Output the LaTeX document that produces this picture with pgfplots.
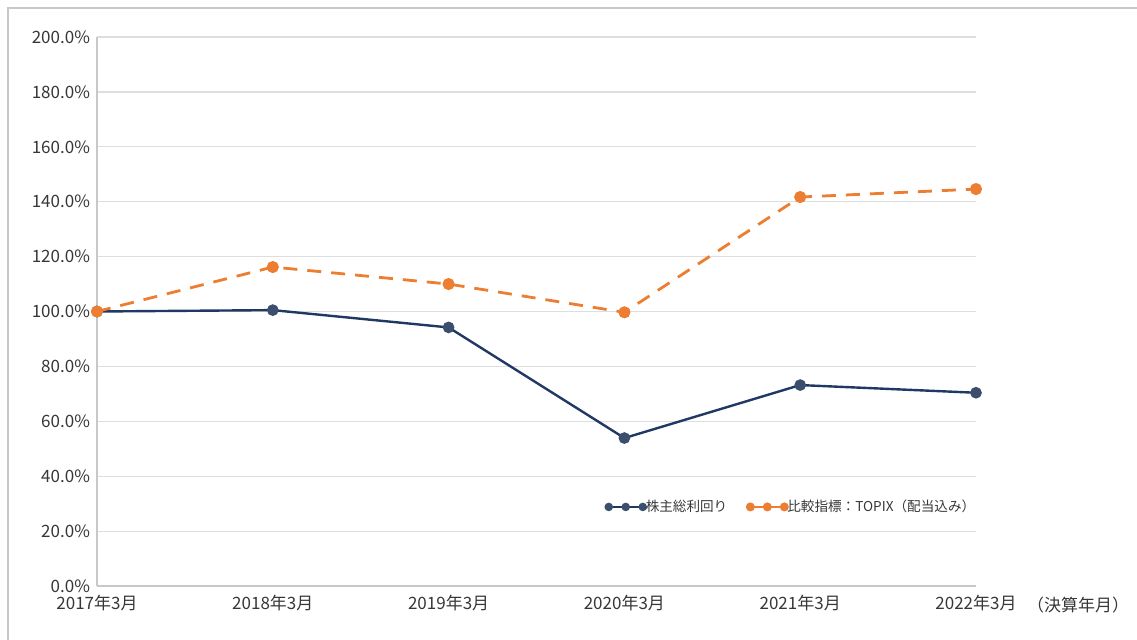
\documentclass[border=0pt]{standalone}
\usepackage{fontspec}
\setmainfont{Noto Sans CJK JP}
\usepackage{pgfplots}
\pgfplotsset{compat=1.18}
\definecolor{navy}{RGB}{31,56,100}
\definecolor{navymark}{RGB}{60,78,110}
\definecolor{orng}{RGB}{237,125,49}
\definecolor{gridc}{RGB}{222,222,222}
\definecolor{axc}{RGB}{200,200,200}
\definecolor{txt}{RGB}{55,55,55}
\begin{document}
\begin{tikzpicture}[x=0.5pt,y=0.5pt]
\path[use as bounding box] (-97,-53) rectangle (1040,586);
\draw[axc, line width=1.2pt] (-89,-60) -- (-89,578) -- (1050,578);
\begin{axis}[
  at={(0,0)}, anchor=origin,
  scale only axis, width=439.5pt, height=274.5pt,
  xmin=0, xmax=5, ymin=0, ymax=200,
  xtick={0,...,5},
  xticklabels={2017年3月,2018年3月,2019年3月,2020年3月,2021年3月,2022年3月},
  ytick={0,20,...,200},
  yticklabel={\pgfmathprintnumber[fixed,fixed zerofill,precision=1]{\tick}\%},
  /pgf/number format/assume math mode=true,
  axis lines*=left,
  axis line style={axc, line width=0.8pt},
  ymajorgrids, grid style={gridc, line width=0.6pt},
  major tick length=0pt,
  tick label style={font=\fontsize{8.5}{10}\selectfont, text=txt},
  xticklabel style={yshift=-1pt},
  clip=false,
  legend style={at={(0.5715,0.144)}, anchor=west, draw=none, fill=none,
    font=\fontsize{6.8}{8}\selectfont, text=txt, legend columns=2,
    /tikz/every even column/.append style={column sep=10pt},
    nodes={inner xsep=0pt}},
  legend cell align=left,
  legend image code/.code={\draw[mark repeat=1,mark phase=1,mark size=1.5pt,solid] plot coordinates {(0pt,0pt) (8.5pt,0pt) (17pt,0pt)};},
]
\addplot[navy, line width=1.2pt, mark=*, mark size=2.3pt, mark options={fill=navymark, draw=navymark}]
  coordinates {(0,100) (1,100.5) (2,94.2) (3,53.9) (4,73.2) (5,70.4)};
\addlegendentry{株主総利回り}
\addplot[orng, line width=1.4pt, dash pattern=on 7pt off 5pt, mark=*, mark size=2.3pt, mark options={solid, fill=orng}]
  coordinates {(0,100) (1,116.2) (2,110.0) (3,99.7) (4,141.7) (5,144.6)};
\addlegendentry{比較指標：TOPIX（配当込み）}
\node[anchor=north, font=\fontsize{8.5}{10}\selectfont, text=txt, inner sep=0pt] at ([xshift=51pt, yshift=-5.5pt]rel axis cs:1,0) {（決算年月）};
\end{axis}
\end{tikzpicture}
\end{document}
